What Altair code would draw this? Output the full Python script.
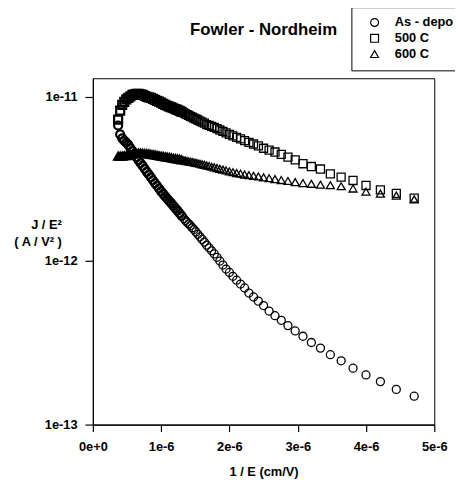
import altair as alt
import pandas as pd

# 1/E positions, in units of 1e-6 cm/V (shared measurement grid)
inv_e_um = [0.37, 0.40, 0.43, 0.46, 0.49, 0.52, 0.55, 0.58, 0.61, 0.64,
            0.67, 0.70, 0.73, 0.76, 0.79, 0.82, 0.85, 0.88, 0.91, 0.94,
            0.97, 1.00, 1.03, 1.06, 1.09, 1.12, 1.15, 1.18, 1.21, 1.24,
            1.27, 1.30, 1.333, 1.356, 1.379, 1.404, 1.429, 1.455, 1.481, 1.509,
            1.538, 1.569, 1.600, 1.633, 1.667, 1.702, 1.739, 1.778, 1.818, 1.860,
            1.905, 1.951, 2.000, 2.051, 2.105, 2.162, 2.222, 2.286, 2.353, 2.424,
            2.500, 2.581, 2.667, 2.759, 2.857, 2.963, 3.077, 3.200, 3.333, 3.478,
            3.636, 3.810, 4.000, 4.211, 4.444, 4.706]

# J/E^2 values, in units of 1e-12 A/V^2
as_depo = [6.69, 5.90, 5.59, 5.41, 5.26, 5.09, 4.87, 4.67, 4.48, 4.28,
           4.10, 3.94, 3.79, 3.64, 3.49, 3.36, 3.23, 3.10, 2.98, 2.87,
           2.76, 2.65, 2.56, 2.47, 2.39, 2.31, 2.24, 2.16, 2.09, 2.02,
           1.95, 1.88, 1.81, 1.76, 1.72, 1.68, 1.64, 1.59, 1.55, 1.50,
           1.45, 1.40, 1.35, 1.30, 1.245, 1.20, 1.15, 1.10, 1.05, 0.996,
           0.941, 0.890, 0.848, 0.804, 0.761, 0.721, 0.682, 0.635, 0.601, 0.567,
           0.533, 0.493, 0.462, 0.433, 0.402, 0.373, 0.346, 0.317, 0.293, 0.267,
           0.245, 0.221, 0.201, 0.183, 0.164, 0.149]

c500 = [7.27, 8.24, 8.95, 9.33, 9.66, 9.86, 10.07, 10.28, 10.35, 10.43,
        10.43, 10.35, 10.28, 10.14, 10.00, 9.93, 9.86, 9.73, 9.59, 9.46,
        9.36, 9.23, 9.07, 8.95, 8.83, 8.73, 8.63, 8.53, 8.43, 8.34,
        8.21, 8.10, 7.98, 7.88, 7.79, 7.71, 7.61, 7.52, 7.42, 7.33,
        7.23, 7.12, 7.01, 6.91, 6.78, 6.70, 6.61, 6.51, 6.41, 6.28,
        6.16, 6.04, 5.90, 5.78, 5.66, 5.54, 5.41, 5.28, 5.16, 5.02,
        4.86, 4.74, 4.61, 4.46, 4.29, 4.13, 3.91, 3.76, 3.63, 3.39,
        3.24, 3.09, 2.88, 2.71, 2.58, 2.41]

c600 = [4.35, 4.35, 4.35, 4.37, 4.38, 4.41, 4.44, 4.48, 4.51, 4.52,
        4.54, 4.54, 4.52, 4.51, 4.50, 4.49, 4.46, 4.44, 4.42, 4.39,
        4.37, 4.35, 4.33, 4.30, 4.29, 4.27, 4.24, 4.22, 4.20, 4.18,
        4.15, 4.12, 4.10, 4.08, 4.06, 4.04, 4.02, 4.01, 3.98, 3.96,
        3.94, 3.91, 3.88, 3.85, 3.82, 3.79, 3.75, 3.72, 3.68, 3.64,
        3.60, 3.56, 3.51, 3.47, 3.43, 3.40, 3.36, 3.33, 3.30, 3.27,
        3.23, 3.19, 3.15, 3.11, 3.07, 3.02, 2.98, 2.95, 2.91, 2.89,
        2.85, 2.76, 2.64, 2.57, 2.50, 2.37]

series_names = ["As - depo", "500 C", "600 C"]
series_shapes = ["circle", "square", "triangle-up"]
x_ticks = [0, 1e-6, 2e-6, 3e-6, 4e-6, 5e-6]
y_ticks = [1e-13, 1e-12, 1e-11]

rows = []
for name, ys in zip(series_names, [as_depo, c500, c600]):
    for xv, yv in zip(inv_e_um, ys):
        rows.append({"x": xv * 1e-6, "y": yv * 1e-12, "series": name})
df = pd.DataFrame(rows)

FONT = "Liberation Sans"

chart = alt.Chart(df).mark_point(
    filled=False, size=66, color="black", opacity=1
).encode(
    x=alt.X("x:Q",
            scale=alt.Scale(domain=[0, 5e-6], nice=False, zero=False),
            axis=alt.Axis(values=x_ticks, format=".0e", title="1 / E (cm/V)",
                          tickSize=7, labelPadding=9, labelFlush=False,
                          titleBaseline="alphabetic", titleY=52)),
    y=alt.Y("y:Q",
            scale=alt.Scale(type="log", domain=[1e-13, 1.3e-11], nice=False),
            axis=alt.Axis(values=y_ticks, format=".0e",
                          title=["J / E\u00b2", "( A / V\u00b2 )"],
                          titleAngle=0, titleAlign="right", titleBaseline="alphabetic",
                          titleX=-32, titleY=152, titleLineHeight=18,
                          tickSize=8, labelPadding=8, labelFlush=False)),
    shape=alt.Shape("series:N",
                    scale=alt.Scale(domain=series_names, range=series_shapes),
                    legend=alt.Legend(title=None, orient="none", legendX=262, legendY=-72,
                                      strokeColor="black", fillColor="white", padding=9,
                                      symbolOffset=8, labelOffset=14, rowPadding=2,
                                      symbolSize=64, symbolStrokeWidth=1.2,
                                      symbolStrokeColor="black", symbolFillColor="transparent",
                                      labelFont=FONT, labelFontSize=13, labelFontWeight="bold",
                                      labelColor="black")),
    strokeWidth=alt.condition("datum.x < 1.32e-6", alt.value(2.2), alt.value(1.3)),
).properties(
    width=346, height=351,
    title=alt.TitleParams(text="Fowler - Nordheim", font=FONT, fontSize=17,
                          fontWeight="bold", color="black", anchor="middle",
                          baseline="alphabetic", offset=-46),
    autosize="none",
    padding={"left": 86, "top": 68, "right": 21, "bottom": 56},
).configure_view(
    stroke="black", strokeWidth=1
).configure_axis(
    grid=False, domainColor="black", domainWidth=1.2, tickColor="black", tickWidth=1.2,
    labelFont=FONT, labelFontSize=13, labelFontWeight="bold", labelColor="black",
    titleFont=FONT, titleFontSize=13, titleFontWeight="bold", titleColor="black"
)

chart.save("out.html", embed_options={"renderer": "svg", "actions": False})
